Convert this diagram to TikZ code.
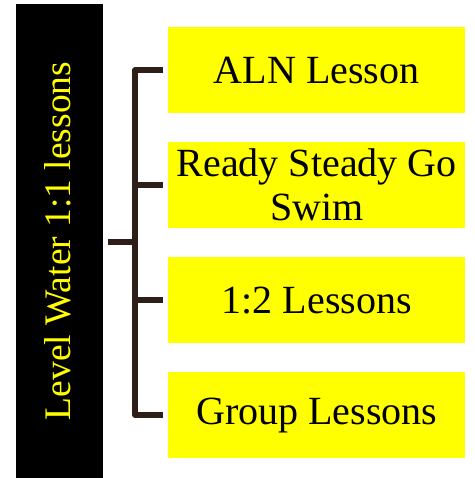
\documentclass[tikz,border=0pt]{standalone}
\usepackage{fontspec}
\setmainfont{Liberation Serif}
\definecolor{conn}{HTML}{2E1E18}
\definecolor{ybox}{HTML}{FFFF00}
\begin{document}
\begin{tikzpicture}[x=1pt,y=-1pt,
  itembox/.style={fill=ybox, minimum width=297pt, minimum height=86pt, inner sep=0pt, align=center, font=\fontsize{40}{44}\selectfont, text=black},
  conline/.style={draw=conn, line width=5.5pt}]
\useasboundingbox (0,0) rectangle (474,478);
\node[fill=black, minimum width=87pt, minimum height=474pt, inner sep=0pt, anchor=north west] (root) at (16,4) {};
\node[rotate=90, text=ybox, font=\fontsize{37.5}{40}\selectfont, inner sep=0pt] (rootlabel) at (58,241) {Level Water 1:1 lessons};
\node[itembox, anchor=north west] (a) at (168,27) {ALN Lesson};
\node[itembox, anchor=north west] (b) at (168,142) {Ready Steady Go\\Swim};
\node[itembox, anchor=north west] (c) at (168,257) {1:2 Lessons};
\node[itembox, anchor=north west] (d) at (168,372) {Group Lessons};
\coordinate (rootout) at ([xshift=5pt]root.east |- 0,242);
\coordinate (trunk) at (135,242);
\draw[conline] (rootout) -- (trunk);
\draw[conline, line join=round] ([xshift=-5pt]a.west |- 0,70) -| (135,415) -- ([xshift=-5pt]d.west |- 0,415);
\draw[conline] (135,185) -- ([xshift=-5pt]b.west |- 0,185);
\draw[conline] (135,300) -- ([xshift=-5pt]c.west |- 0,300);
\end{tikzpicture}
\end{document}
